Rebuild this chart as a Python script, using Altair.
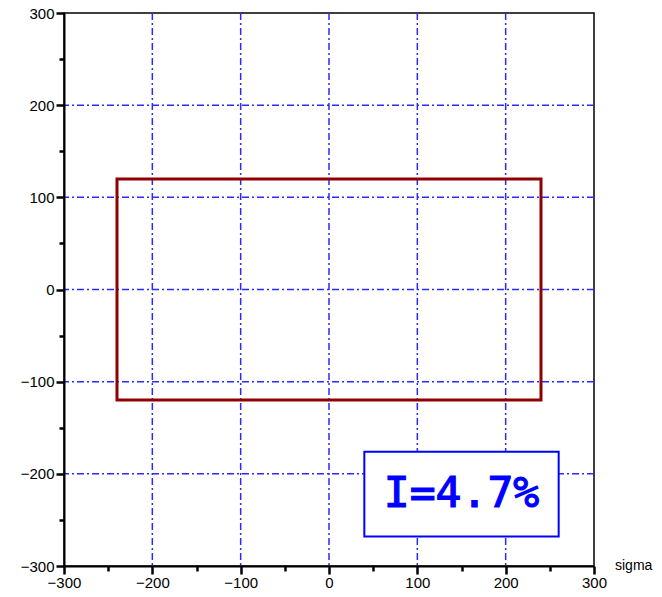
import altair as alt
import pandas as pd

# Axis ranges and tick positions
axis_min, axis_max = -300, 300
tick_values = [-300, -250, -200, -150, -100, -50, 0, 50, 100, 150, 200, 250, 300]
grid_values = [-200, -100, 0, 100, 200]

# Rectangle (sigma vs tau region)
rect_x = [-240, 240]
rect_y = [-120, 120]

# Annotation box
box_x = [40, 260]
box_y = [-268, -176]
box_label = "I=4.7%"
label_pos = [150, -222]

axis_title = "sigma"

GRID_BLUE = "#2a2aff"
DARK_RED = "#8f0000"

xs = alt.Scale(domain=[axis_min, axis_max], nice=False, zero=False)
ys = alt.Scale(domain=[axis_min, axis_max], nice=False, zero=False)

minor_test = "datum.value % 100 != 0"
axis_common = dict(
    values=tick_values,
    title=None,
    grid=False,
    domainColor="black",
    domainWidth=2,
    tickColor="black",
    tickWidth=2.5,
    tickSize=alt.condition(minor_test, alt.value(5), alt.value(8)),
    labelExpr="datum.value % 100 == 0 ? datum.label : ''",
    labelFont="Liberation Sans",
    labelFontSize=15,
    labelColor="black",
    labelFlush=False,
    labelOverlap=False,
    zindex=1,
)

grid_df = pd.DataFrame({"v": grid_values})

vgrid = alt.Chart(grid_df).mark_rule(
    color=GRID_BLUE, strokeWidth=1.5, strokeDash=[7, 3, 2, 3]
).encode(
    x=alt.X("v:Q", scale=xs, axis=alt.Axis(orient="bottom", labelPadding=1, **axis_common)),
)

hgrid = alt.Chart(grid_df).mark_rule(
    color=GRID_BLUE, strokeWidth=1.5, strokeDash=[7, 3, 2, 3]
).encode(
    y=alt.Y("v:Q", scale=ys, axis=alt.Axis(orient="left", labelPadding=2, **axis_common)),
)

rect_df = pd.DataFrame({"x1": [rect_x[0]], "x2": [rect_x[1]], "y1": [rect_y[0]], "y2": [rect_y[1]]})
rect = alt.Chart(rect_df).mark_rect(
    fillOpacity=0, stroke=DARK_RED, strokeWidth=3
).encode(
    x=alt.X("x1:Q", scale=xs), x2="x2:Q",
    y=alt.Y("y1:Q", scale=ys), y2="y2:Q",
)

box_df = pd.DataFrame({"x1": [box_x[0]], "x2": [box_x[1]], "y1": [box_y[0]], "y2": [box_y[1]]})
box = alt.Chart(box_df).mark_rect(
    fill="white", stroke="#0000ff", strokeWidth=2
).encode(
    x=alt.X("x1:Q", scale=xs), x2="x2:Q",
    y=alt.Y("y1:Q", scale=ys), y2="y2:Q",
)

text_df = pd.DataFrame({"x": [label_pos[0]], "y": [label_pos[1]], "t": [box_label]})
text = alt.Chart(text_df).mark_text(
    font="DejaVu Sans Mono", fontSize=43, color="#0000ff",
    stroke="#0000ff", strokeWidth=1.2,
    align="center", baseline="middle"
).encode(
    x=alt.X("x:Q", scale=xs), y=alt.Y("y:Q", scale=ys), text="t:N"
)

title_df = pd.DataFrame({"x": [axis_max], "y": [axis_min], "t": [axis_title]})
title = alt.Chart(title_df).mark_text(
    font="Liberation Sans", fontSize=14, color="black",
    align="left", baseline="middle", dx=21
).encode(
    x=alt.X("x:Q", scale=xs), y=alt.Y("y:Q", scale=ys), text="t:N"
)

chart = alt.layer(vgrid, hgrid, rect, box, text, title).properties(
    width=530,
    height=553,
    autosize=alt.AutoSizeParams(type="none"),
    padding={"left": 64, "top": 13, "right": 68, "bottom": 31},
    background="white",
).configure_view(
    stroke="black", strokeWidth=1.5
)

chart.save("out.html", embed_options={"renderer": "svg", "actions": False})
